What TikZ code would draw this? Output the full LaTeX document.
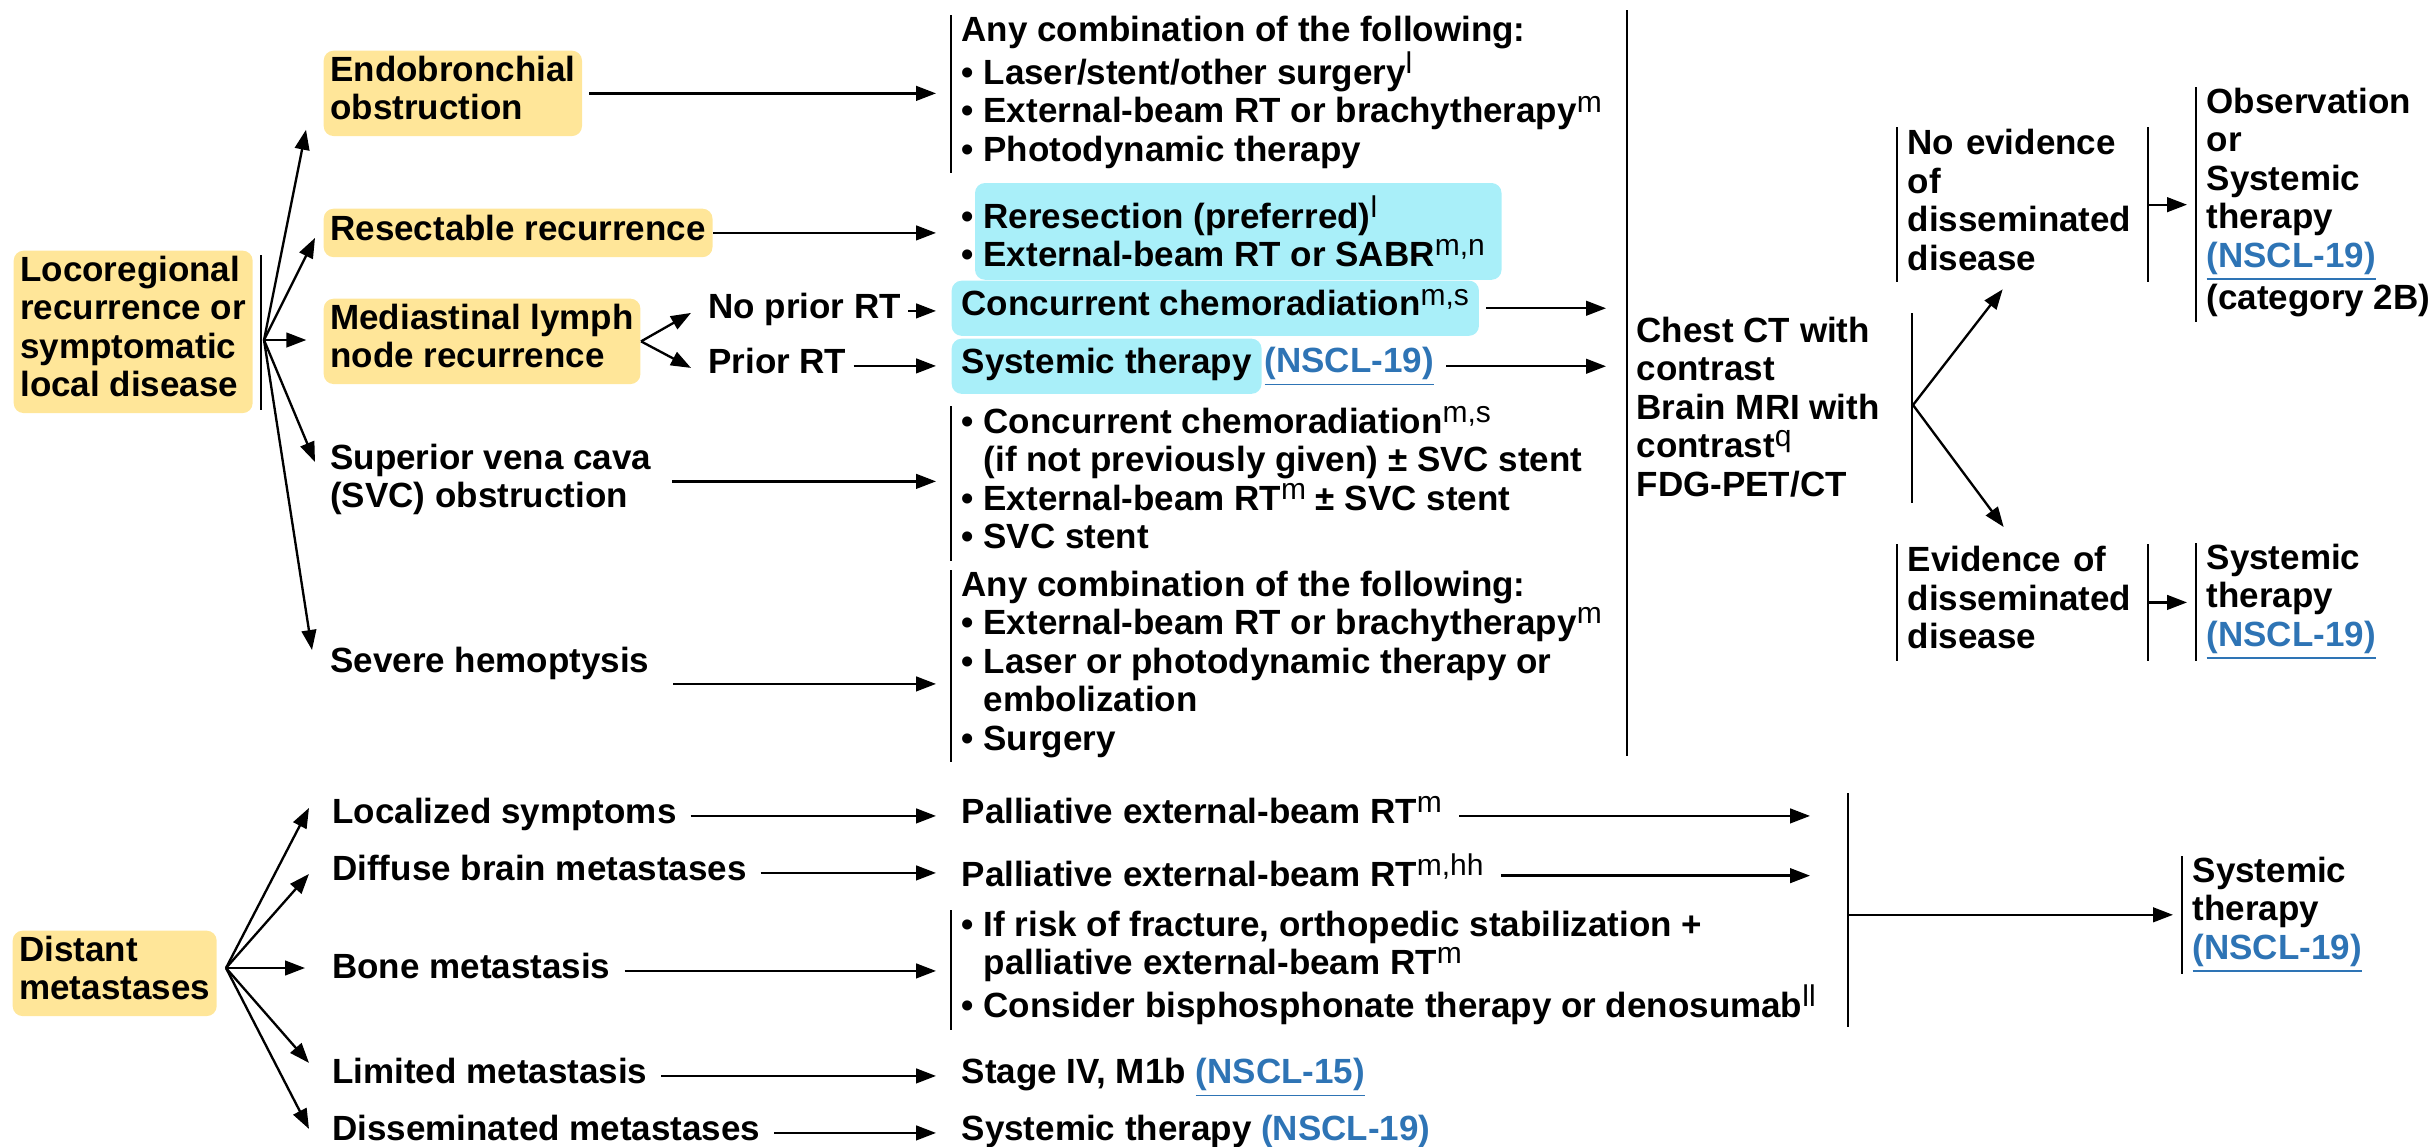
\documentclass[tikz,border=0pt]{standalone}
\usepackage{fontspec}
\setmainfont{Liberation Sans}
\usetikzlibrary{arrows.meta,positioning,calc,backgrounds}
\definecolor{HlYellow}{HTML}{FFE699}
\definecolor{HlCyan}{HTML}{A9EFF9}
\definecolor{LinkBlue}{HTML}{2E74B5}
\newcommand{\supnote}[1]{\raisebox{3.2pt}{\fontsize{9}{9}\selectfont\mdseries #1}}
\newcommand{\nscl}[1]{\textcolor{LinkBlue}{\underline{(NSCL-#1)}}}
\newcommand{\bulind}{\phantom{• }}
\begin{document}
\begin{tikzpicture}[x=0.3pt,y=-0.3pt,>={Triangle[length=6pt,width=4.4pt]},
  every node/.style={font=\fontsize{10.5}{11.55}\selectfont\bfseries},
  txt/.style={anchor=north west,align=left,inner xsep=2pt,inner ysep=0pt,
    execute at begin node=\strut,execute at end node=\strut},
  hly/.style={txt,fill=HlYellow,rounded corners=3pt,inner ysep=1.5pt},
  blk/.style={txt,inner xsep=3pt},
  hlc/.style={blk,fill=HlCyan,rounded corners=3pt,inner ysep=2.5pt},
  lnk/.style={txt,inner xsep=0.5pt},
  bar/.style={line width=0.55pt},
  arr/.style={->,line width=0.7pt},
  tob/.style={arr,shorten <=2pt,shorten >=4.5pt}]
  \useasboundingbox (0,0) rectangle (2432,1146);

  % locoregional branch
  \node[hly] (loco) at (13,250) {Locoregional\\recurrence or\\symptomatic\\local disease};
  \node[hly] (endo) at (323,50) {Endobronchial\\obstruction};
  \node[hly] (resect) at (323,208) {Resectable recurrence};
  \node[hly] (medi) at (323,298) {Mediastinal lymph\\node recurrence};
  \node[txt] (svc) at (323,443) {Superior vena cava\\(SVC) obstruction};
  \node[txt] (hemo) at (323,645) {Severe hemoptysis};
  \node[txt] (noprior) at (701,291) {No prior RT};
  \node[txt] (prior) at (701,346) {Prior RT};

  \node[blk] (endoblk) at (951,15) {Any combination of the following:\\• Laser/stent/other surgery\supnote{l}\\• External-beam RT or brachytherapy\supnote{m}\\• Photodynamic therapy};
  \node[blk] (resblk) at (951,195) {• Reresection (preferred)\supnote{l}\\• External-beam RT or SABR\supnote{m,n}};
  \node[hlc] (conc) at (951,280) {Concurrent chemoradiation\supnote{m,s}};
  \node[hlc] (sysmid) at (951,338) {Systemic therapy};
  \node[lnk,right=0pt of sysmid] (sysmidref) {\nscl{19}};
  \node[blk] (svcblk) at (951,406) {• Concurrent chemoradiation\supnote{m,s}\\\bulind(if not previously given) ± SVC stent\\• External-beam RT\supnote{m} ± SVC stent\\• SVC stent};
  \node[blk] (hemoblk) at (951,570) {Any combination of the following:\\• External-beam RT or brachytherapy\supnote{m}\\• Laser or photodynamic therapy or\\\bulind embolization\\• Surgery};

  \node[blk] (chest) at (1626,316) {Chest CT with\\contrast\\Brain MRI with\\contrast\supnote{q}\\FDG-PET/CT};
  \node[blk,text width=69pt] (noev) at (1897,127) {No evidence\\of\\disseminated\\disease};
  \node[blk] (obs) at (2196,87) {Observation\\or\\Systemic\\therapy\\\nscl{19}\\(category 2B)};
  \node[blk,text width=69pt] (ev) at (1897,544) {Evidence of\\disseminated\\disease};
  \node[blk] (sysev) at (2196,543) {Systemic\\therapy\\\nscl{19}};

  % distant branch
  \node[hly] (dist) at (12,930) {Distant\\metastases};
  \node[txt] (loc) at (325,796) {Localized symptoms};
  \node[txt] (dif) at (325,853) {Diffuse brain metastases};
  \node[txt] (bone) at (325,951) {Bone metastasis};
  \node[txt] (lim) at (325,1056) {Limited metastasis};
  \node[txt] (dis) at (325,1113) {Disseminated metastases};
  \node[blk] (pal1) at (951,796) {Palliative external-beam RT\supnote{m}};
  \node[blk] (pal2) at (951,853) {Palliative external-beam RT\supnote{m,hh}};
  \node[blk] (boneblk) at (951,910) {• If risk of fracture, orthopedic stabilization +\\\bulind palliative external-beam RT\supnote{m}\\• Consider bisphosphonate therapy or denosumab\supnote{ll}};
  \node[blk] (stage) at (951,1056) {Stage IV, M1b \nscl{15}};
  \node[blk] (sysdis) at (951,1113) {Systemic therapy \nscl{19}};
  \node[blk] (sysbot) at (2182,856) {Systemic\\therapy\\\nscl{19}};

  \coordinate (lfan) at (264,340);
  \coordinate (rfan) at (226,968);
  \coordinate (fork) at (1913,405);
  \coordinate (bigtop) at (1627,10);
  \coordinate (bigbot) at (1627,756);
  \coordinate (forktop) at (1912,313);
  \coordinate (forkbot) at (1912,503);
  \coordinate (mrgtop) at (1848,793);
  \coordinate (mrgbot) at (1848,1027);
  \coordinate (hemoout) at ($(hemo.east)+(0,19)$);

  \begin{scope}[on background layer]
    \fill[HlCyan,rounded corners=3pt] ($(resblk.north west)+(24,-12)$) rectangle ($(resblk.south east)+(6,1)$);
  \end{scope}

  % brackets
  \foreach \n in {endoblk,svcblk,hemoblk,boneblk,noev,obs,ev,sysev,sysbot}
    \draw[bar] (\n.north west) -- (\n.south west);
  \draw[bar] (noev.north east) -- (noev.south east);
  \draw[bar] (ev.north east) -- (ev.south east);
  \draw[bar] ($(loco.north east)+(8,5)$) -- ($(loco.south east)+(8,-4)$);
  \draw[bar] (bigtop) -- (bigbot);
  \draw[bar] (forktop) -- (forkbot);
  \draw[bar] (mrgtop) -- (mrgbot);

  \draw[arr] (lfan) -- ($(endo.south west)+(-17,-7)$);
  \draw[arr] (lfan) -- ($(resect.west)+(-8,5)$);
  \draw[arr,shorten >=5pt] (lfan) -- (lfan -| medi.west);
  \draw[arr] (lfan) -- ($(svc.north west)+(-8,19)$);
  \draw[arr] (lfan) -- ($(hemo.north west)+(-11,5)$);
  \draw[arr] (medi.east) -- ($(noprior.west)+(-10,2)$);
  \draw[arr] (medi.east) -- ($(prior.west)+(-10,2)$);

  \draw[tob] (endo.east) -- (endo.east -| endoblk.west);
  \draw[tob,shorten <=0pt] (resect.east) -- (resect.east -| resblk.west);
  \draw[tob,shorten <=0pt] (noprior.east) -- (noprior.east -| conc.west);
  \draw[tob,shorten <=0pt] (prior.east) -- (prior.east -| sysmid.west);
  \draw[tob,shorten <=4pt] (svc.east) -- (svc.east -| svcblk.west);
  \draw[tob,shorten <=5pt] (hemoout) -- (hemoout -| hemoblk.west);
  \draw[arr,shorten <=2pt,shorten >=6.3pt] (conc.east) -- (conc.east -| bigtop);
  \draw[arr,shorten <=3pt,shorten >=6.3pt] (sysmidref.east) -- (sysmidref.east -| bigtop);

  \draw[arr] (fork) -- ($(noev.south)+(-20,7)$);
  \draw[arr] (fork) -- ($(ev.north)+(-19,-17)$);
  \draw[arr,shorten >=2.7pt] (noev.east) -- (noev.east -| obs.west);
  \draw[arr,shorten >=2.7pt] (ev.east) -- (ev.east -| sysev.west);

  \draw[arr] (rfan) -- ($(loc.west)+(-16,-8)$);
  \draw[arr] (rfan) -- ($(dif.west)+(-16,1)$);
  \draw[arr,shorten >=6pt] (rfan) -- (rfan -| bone.west);
  \draw[arr] (rfan) -- ($(lim.west)+(-16,-13)$);
  \draw[arr] (rfan) -- ($(dis.west)+(-16,-4)$);
  \draw[tob] (loc.east) -- (loc.east -| pal1.west);
  \draw[tob] (dif.east) -- (dif.east -| pal2.west);
  \draw[tob] (bone.east) -- (bone.east -| boneblk.west);
  \draw[tob] (lim.east) -- (lim.east -| stage.west);
  \draw[tob] (dis.east) -- (dis.east -| sysdis.west);
  \draw[arr,shorten <=2pt,shorten >=11.4pt] (pal1.east) -- (pal1.east -| mrgtop);
  \draw[arr,shorten <=2pt,shorten >=11.4pt] (pal2.east) -- (pal2.east -| mrgtop);
  \draw[arr,shorten >=2.7pt] (sysbot.west -| mrgtop) -- (sysbot.west);
\end{tikzpicture}
\end{document}
